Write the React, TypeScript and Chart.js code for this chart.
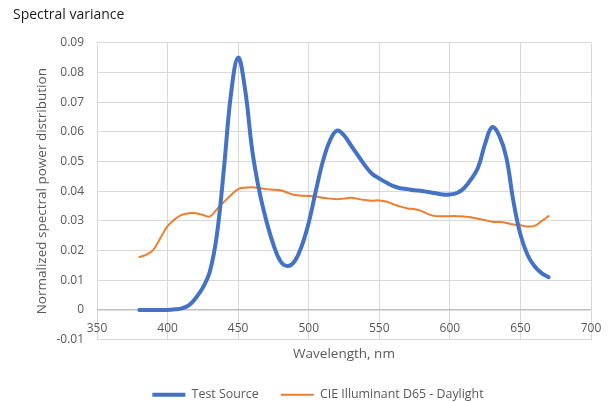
import React, { useEffect, useRef } from "react";
import { Chart, registerables } from "chart.js";

Chart.register(...registerables);

const wavelengths = [
  380, 385, 390, 395, 400, 405, 410, 415, 420, 425, 430, 435, 440, 445, 450,
  455, 460, 465, 470, 475, 480, 485, 490, 495, 500, 505, 510, 515, 520, 525,
  530, 535, 540, 545, 550, 555, 560, 565, 570, 575, 580, 585, 590, 595, 600,
  605, 610, 615, 620, 625, 630, 635, 640, 645, 650, 655, 660, 665, 670,
];

const testSource = [
  0, 0, 0, 0, 0, 0.0002, 0.0005, 0.0015, 0.004, 0.0075, 0.013, 0.0255, 0.048,
  0.073, 0.085, 0.074, 0.0537, 0.04, 0.03, 0.022, 0.0164, 0.0148, 0.0164,
  0.0215, 0.0294, 0.04, 0.05, 0.057, 0.0604, 0.0588, 0.0554, 0.052, 0.0486,
  0.0458, 0.0443, 0.0429, 0.0417, 0.041, 0.0407, 0.0403, 0.0401, 0.0397,
  0.0393, 0.0389, 0.0389, 0.0394, 0.041, 0.044, 0.048, 0.056, 0.0616, 0.0587,
  0.0514, 0.0367, 0.0254, 0.0186, 0.0147, 0.0124, 0.011,
];

const d65Daylight = [
  0.0178, 0.0186, 0.0203, 0.0243, 0.0282, 0.0305, 0.032, 0.0326, 0.0326,
  0.032, 0.0315, 0.0339, 0.0364, 0.0387, 0.0407, 0.0412, 0.0413, 0.041,
  0.0407, 0.0405, 0.0403, 0.0395, 0.0387, 0.0385, 0.0384, 0.0382, 0.0378,
  0.0375, 0.0373, 0.0375, 0.0378, 0.0374, 0.037, 0.0368, 0.0369, 0.0365,
  0.0356, 0.0348, 0.0342, 0.0339, 0.0333, 0.0322, 0.0316, 0.0316, 0.0316,
  0.0316, 0.0315, 0.0312, 0.0307, 0.0302, 0.0297, 0.0296, 0.0293, 0.0288,
  0.0285, 0.0281, 0.0283, 0.0299, 0.0316,
];

const xTickValues = [350, 400, 450, 500, 550, 600, 650, 700];
const seriesNames = ["Test Source", "CIE Illuminant D65 - Daylight"];
const chartTitle = "Spectral variance";
const xTitle = "Wavelength, nm";
const yTitle = "Normalized spectral power distribution";

const FONT = "'Open Sans', 'Noto Sans', sans-serif";
const GRAY = "#595959";

// Excel-style: x tick labels sit just under the y = 0 line
const crossingLabels = {
  id: "crossingLabels",
  afterDraw(chart: any) {
    const xs = chart.scales.x;
    const ys = chart.scales.y;
    const ctx = chart.ctx;
    const y0 = ys.getPixelForValue(0);
    ctx.save();
    ctx.fillStyle = GRAY;
    ctx.font = `12px ${FONT}`;
    ctx.textAlign = "center";
    ctx.textBaseline = "middle";
    xTickValues.forEach((v) => {
      ctx.fillText(String(v), xs.getPixelForValue(v), y0 + 19);
    });
    ctx.restore();
  },
};

const shiftLegend = {
  id: "shiftLegend",
  afterLayout(chart: any) {
    if (chart.legend) {
      chart.legend.left += 16;
      chart.legend.right += 16;
    }
  },
};

export default function App() {
  const ref = useRef<HTMLCanvasElement | null>(null);

  useEffect(() => {
    if (!ref.current) return;
    const chart = new Chart(ref.current, {
      type: "line",
      data: {
        datasets: [
          {
            label: seriesNames[0],
            data: wavelengths.map((w, i) => ({ x: w, y: testSource[i] })),
            borderColor: "#4472C4",
            backgroundColor: "#4472C4",
            borderWidth: 4,
            pointRadius: 0,
            tension: 0.4,
            borderCapStyle: "round",
          },
          {
            label: seriesNames[1],
            data: wavelengths.map((w, i) => ({ x: w, y: d65Daylight[i] })),
            borderColor: "#ED7D31",
            backgroundColor: "#ED7D31",
            borderWidth: 2,
            pointRadius: 0,
            tension: 0.4,
            borderCapStyle: "round",
          },
        ],
      },
      options: {
        animation: false,
        responsive: true,
        maintainAspectRatio: false,
        layout: { padding: { left: 13, right: 18, top: 0, bottom: -9 } },
        plugins: {
          title: {
            display: true,
            text: chartTitle,
            align: "start",
            color: "#1a1a1a",
            font: { family: FONT, size: 14, weight: "normal" },
            padding: { top: 7, bottom: 19 },
          },
          legend: {
            position: "bottom",
            labels: {
              usePointStyle: true,
              pointStyle: "line",
              pointStyleWidth: 33,
              color: GRAY,
              font: { family: FONT, size: 12.4 },
              padding: 22,
            },
          },
          tooltip: { enabled: false },
        },
        scales: {
          x: {
            type: "linear",
            min: 350,
            max: 700,
            ticks: {
              stepSize: 50,
              display: false,
            },
            grid: { color: "#d9d9d9", drawTicks: false },
            border: { display: false },
            title: {
              display: true,
              text: xTitle,
              color: GRAY,
              font: { family: FONT, size: 13.5 },
              padding: { top: 0, bottom: 4 },
            },
            afterFit: (s: any) => {
              s.height = 27;
            },
          },
          y: {
            min: -0.01,
            max: 0.09,
            ticks: {
              stepSize: 0.01,
              color: GRAY,
              font: { family: FONT, size: 12 },
              padding: 13,
              callback: (v: any) => {
                const n = Math.round(Number(v) * 100) / 100;
                return n === 0 ? "0" : n.toFixed(2);
              },
            },
            grid: {
              color: (c: any) =>
                c.tick && Math.abs(c.tick.value) < 1e-9 ? "#bfbfbf" : "#d9d9d9",
              lineWidth: (c: any) =>
                c.tick && Math.abs(c.tick.value) < 1e-9 ? 1.5 : 1,
              drawTicks: false,
            },
            border: { display: false },
            title: {
              display: true,
              text: yTitle,
              color: GRAY,
              font: { family: FONT, size: 13.5 },
              padding: { top: 21, bottom: 0 },
            },
            afterFit: (s: any) => {
              s.width = 84;
            },
          },
        },
      },
      plugins: [crossingLabels, shiftLegend],
    });
    return () => chart.destroy();
  }, []);

  return (
    <div
      style={{
        position: "fixed",
        left: 0,
        top: 0,
        width: 609,
        height: 402,
        background: "#fff",
      }}
    >
      <canvas ref={ref} />
    </div>
  );
}
